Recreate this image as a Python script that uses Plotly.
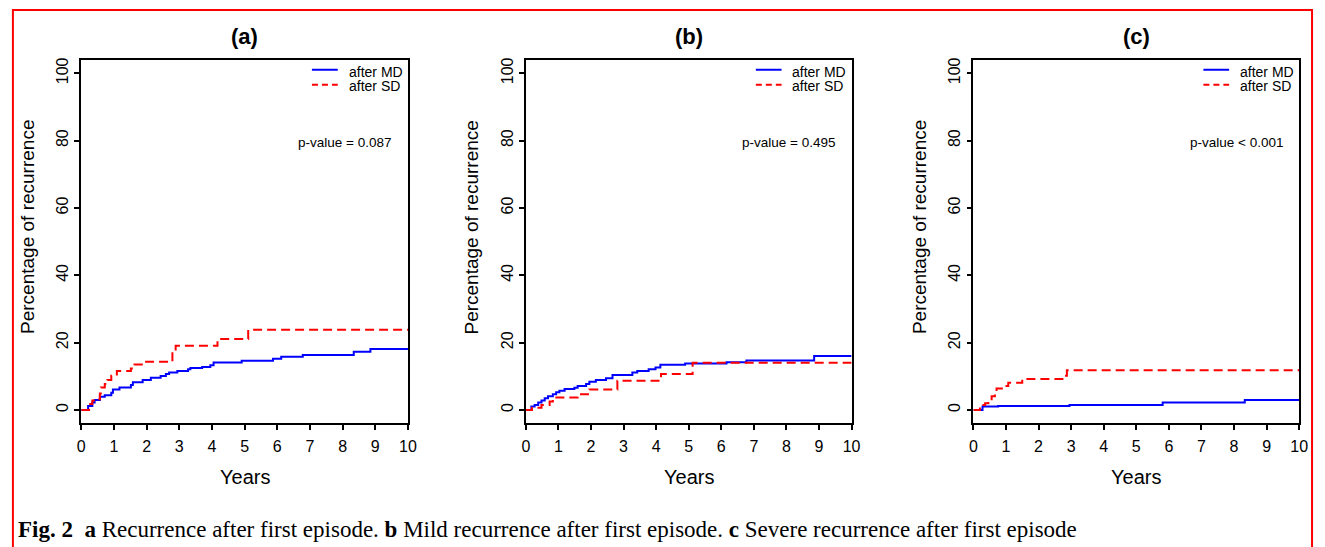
import plotly.graph_objects as go

# ---------------- data ----------------
panel_titles = ["(a)", "(b)", "(c)"]
p_values = ["p-value = 0.087", "p-value = 0.495", "p-value < 0.001"]
series_names = ["after MD", "after SD"]

a_md_t = [0, 0.21, 0.34, 0.41, 0.57, 0.72, 0.92, 0.97, 1.17, 1.52, 1.58, 1.88, 2.13, 2.43, 2.59, 2.69, 2.94, 3.27, 3.34, 3.7, 3.95, 4.05, 4.91, 5.87, 6.12, 6.78, 8.34, 8.85, 10]
a_md_v = [0, 1.2, 2.2, 3.0, 3.9, 4.4, 5.1, 6.1, 6.7, 7.4, 8.2, 8.9, 9.6, 10.1, 10.7, 11.1, 11.6, 12.1, 12.5, 12.8, 13.3, 14.1, 14.6, 15.2, 15.8, 16.3, 17.3, 18.1, 18.1]
a_sd_t = [0, 0.24, 0.34, 0.46, 0.57, 0.6, 0.72, 0.8, 0.92, 1.09, 1.52, 1.63, 1.93, 2.79, 2.89, 4.17, 5.11, 10]
a_sd_v = [0, 1.8, 2.8, 3.2, 4.9, 6.7, 7.7, 8.9, 10.2, 11.6, 12.3, 13.5, 14.3, 18.0, 19.1, 21.1, 23.8, 23.8]

b_md_t = [0, 0.17, 0.27, 0.38, 0.48, 0.58, 0.68, 0.83, 0.93, 1.03, 1.19, 1.49, 1.59, 1.85, 1.95, 2.15, 2.46, 2.66, 3.27, 3.42, 3.77, 3.98, 4.13, 4.89, 6.16, 6.77, 8.85, 10]
b_md_v = [0, 1.0, 1.5, 2.2, 2.8, 3.5, 4.1, 4.7, 5.3, 5.7, 6.2, 6.6, 7.1, 7.7, 8.4, 8.9, 9.4, 10.4, 11.1, 11.6, 12.1, 12.6, 13.4, 13.8, 14.2, 14.7, 16.0, 16.0]
b_sd_t = [0, 0.19, 0.48, 0.73, 0.83, 1.59, 1.95, 2.81, 4.15, 5.12, 10]
b_sd_v = [0, 0.7, 1.5, 2.5, 3.7, 4.7, 6.1, 8.7, 10.7, 14.0, 14.0]

c_md_t = [0, 0.28, 0.76, 2.95, 5.81, 8.33, 10]
c_md_v = [0, 1.0, 1.2, 1.5, 2.2, 3.0, 3.0]
c_sd_t = [0, 0.2, 0.36, 0.46, 0.56, 0.66, 0.71, 0.97, 1.07, 1.5, 2.77, 2.87, 10]
c_sd_v = [0, 1.5, 2.0, 2.8, 4.1, 5.1, 6.4, 7.1, 8.1, 9.2, 10.2, 11.8, 11.8]

x_ticks = [0, 1, 2, 3, 4, 5, 6, 7, 8, 9, 10]
y_ticks = [0, 20, 40, 60, 80, 100]

caption_html = ("<b>Fig. 2</b>  <b>a</b> Recurrence after first episode. "
                "<b>b</b> Mild recurrence after first episode. "
                "<b>c</b> Severe recurrence after first episode")

panels = [
    (a_md_t, a_md_v, a_sd_t, a_sd_v),
    (b_md_t, b_md_v, b_sd_t, b_sd_v),
    (c_md_t, c_md_v, c_sd_t, c_sd_v),
]

# ---------------- layout geometry ----------------
W, H = 1325, 547
x_px = [(78, 408), (527, 856), (979, 1308)]
y_top, y_bot = 58, 423
ylab_px = [23, 472, 924]

BLUE = "#0000FF"
RED = "#FF0000"
FONT = "Liberation Sans, Arial, sans-serif"

fig = go.Figure()
layout = dict(
    width=W, height=H,
    margin=dict(l=0, r=0, t=0, b=0),
    paper_bgcolor="white", plot_bgcolor="white",
    showlegend=False,
    font=dict(family=FONT, color="black"),
)
annotations = []
shapes = []

for i, (mt, mv, st, sv) in enumerate(panels):
    n = "" if i == 0 else str(i + 1)
    xa, ya = "x" + n, "y" + n
    fig.add_trace(go.Scatter(x=mt, y=mv, mode="lines", name=series_names[0],
                             line=dict(color=BLUE, width=2, shape="hv"),
                             xaxis=xa, yaxis=ya))
    fig.add_trace(go.Scatter(x=st, y=sv, mode="lines", name=series_names[1],
                             line=dict(color=RED, width=2, shape="hv", dash="9px,5px"),
                             xaxis=xa, yaxis=ya))
    x0, x1 = x_px[i]
    layout["xaxis" + n] = dict(
        domain=[x0 / W, x1 / W], range=[0, 10], anchor=ya,
        tickvals=x_ticks, ticks="outside", ticklen=5, tickwidth=1.5, tickcolor="black",
        showline=True, linecolor="black", linewidth=1.5, mirror=True,
        showgrid=False, zeroline=False,
        tickfont=dict(size=16, family=FONT), ticklabelstandoff=3,
    )
    layout["yaxis" + n] = dict(
        domain=[1 - y_bot / H, 1 - y_top / H], range=[-4, 104], anchor=xa,
        tickvals=y_ticks, ticks="outside", ticklen=5, tickwidth=1.5, tickcolor="black",
        showline=True, linecolor="black", linewidth=1.5, mirror=True,
        showgrid=False, zeroline=False, tickangle=-90,
        tickfont=dict(size=16, family=FONT),
    )
    xc = (x0 + x1) / 2 / W
    annotations.append(dict(text="<b>" + panel_titles[i] + "</b>", x=xc, y=1 - 35 / H,
                            xref="paper", yref="paper", showarrow=False,
                            font=dict(size=22, family=FONT), xanchor="center", yanchor="middle"))
    annotations.append(dict(text="Years", x=xc, y=1 - 477 / H, xref="paper", yref="paper",
                            showarrow=False, font=dict(size=20, family=FONT),
                            xanchor="center", yanchor="middle"))
    annotations.append(dict(text="Percentage of recurrence", x=ylab_px[i] / W, y=1 - 226 / H,
                            xref="paper", yref="paper", showarrow=False, textangle=-90,
                            font=dict(size=19, family=FONT), xanchor="center", yanchor="middle"))
    annotations.append(dict(text=p_values[i], x=0.658, y=0.7726,
                            xref=xa + " domain", yref=ya + " domain", showarrow=False,
                            font=dict(size=13.5, family=FONT), xanchor="left", yanchor="middle"))
    # legend
    for k, (col, dash, yl, yt) in enumerate([(BLUE, "solid", 0.9726, 0.966),
                                              (RED, "6px,4px", 0.9315, 0.9275)]):
        shapes.append(dict(type="line", xref=xa + " domain", yref=ya + " domain",
                           x0=0.706, x1=0.785, y0=yl, y1=yl,
                           line=dict(color=col, width=2, dash=dash)))
        annotations.append(dict(text=series_names[k], x=0.812, y=yt,
                                xref=xa + " domain", yref=ya + " domain", showarrow=False,
                                font=dict(size=14, family=FONT), xanchor="left", yanchor="middle"))

annotations.append(dict(text=caption_html, x=12 / W, y=1 - 529 / H, xref="paper", yref="paper",
                        showarrow=False, xanchor="left", yanchor="middle",
                        font=dict(size=23, family="Liberation Serif, Times New Roman, serif")))
shapes.append(dict(type="rect", xref="paper", yref="paper",
                   x0=9 / W, x1=1321 / W, y0=-0.05, y1=1 - 8 / H,
                   line=dict(color=RED, width=2)))

layout["annotations"] = annotations
layout["shapes"] = shapes
fig.update_layout(**layout)
fig.write_html("out.html", config={"displayModeBar": False},
               post_script="document.body.style.margin='0px';document.body.style.overflow='hidden';")
